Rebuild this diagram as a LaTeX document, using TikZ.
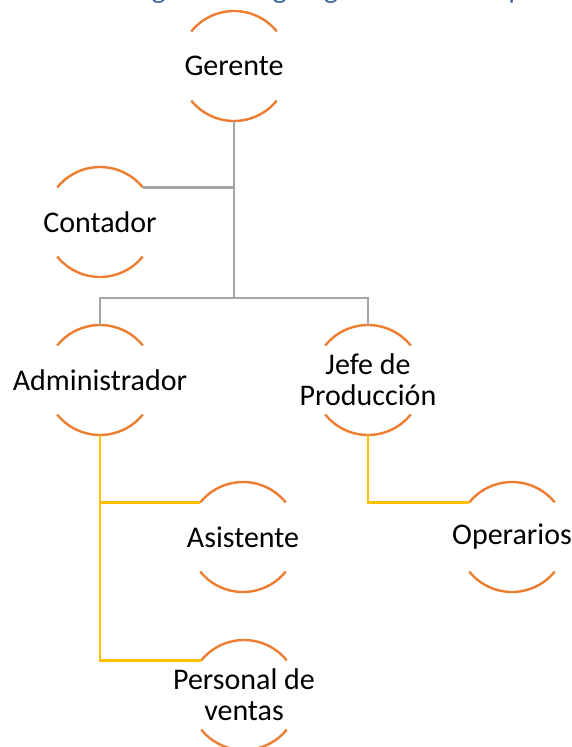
\documentclass[tikz,border=0pt]{standalone}
\usepackage{fontspec}
\setmainfont{Carlito}
\definecolor{arcorange}{HTML}{ED7D31}
\definecolor{linegray}{HTML}{A5A5A5}
\definecolor{lineyellow}{HTML}{FFC000}
\definecolor{titleblue}{HTML}{3B64A0}
\begin{document}
\begin{tikzpicture}[x=1pt,y=1pt,
  hub/.style={circle, minimum size=110pt, inner sep=0pt, outer sep=0pt},
  nodetext/.style={align=center, inner sep=0pt, font=\fontsize{30}{31}\selectfont},
  arcline/.style={draw=arcorange, line width=2.4pt},
  grayline/.style={draw=linegray, line width=2.3pt},
  yellowline/.style={draw=lineyellow, line width=2.3pt},
  titletext/.style={anchor=base west, inner sep=0pt, text=titleblue, font=\fontsize{29}{31}\selectfont\itshape}]
\useasboundingbox (0,0) rectangle (571,-747);

\node[titletext] (title) at (133,1.5) {Figura 1. Organigrama de la empresa};

\node[hub, label={[nodetext]center:Gerente}] (g) at (234,-66) {};
\node[hub, label={[nodetext]center:Contador}] (c) at (100,-222) {};
\node[hub, label={[nodetext]center:Administrador}] (a) at (100,-380) {};
\node[hub, label={[nodetext]center:Jefe de\\Producción}] (j) at (368,-380) {};
\node[hub, label={[nodetext]center:Asistente}] (s) at (243,-537) {};
\node[hub, label={[nodetext]center:Operarios}] (o) at (512,-537) {};
\node[hub, label={[nodetext]center:Personal de\\ventas}] (p) at (244,-695) {};

\foreach \n in {g,c,a,j,s,o,p}{
  \draw[arcline] (\n.39) arc[start angle=39, end angle=141, radius=55pt];
  \draw[arcline] (\n.219) arc[start angle=219, end angle=321, radius=55pt];
}

\coordinate (bus) at (0,-298);
\draw[grayline] (g.south) -- (g.south |- bus);
\draw[grayline] (g.south |- c.39) -- (c.39);
\draw[grayline] (a.north) -- (a.north |- bus) -- (j.north |- bus) -- (j.north);

\draw[yellowline] (a.south) |- (s.141);
\draw[yellowline] (a.south) |- (p.141);
\draw[yellowline] (j.south) |- (o.141);
\end{tikzpicture}
\end{document}
